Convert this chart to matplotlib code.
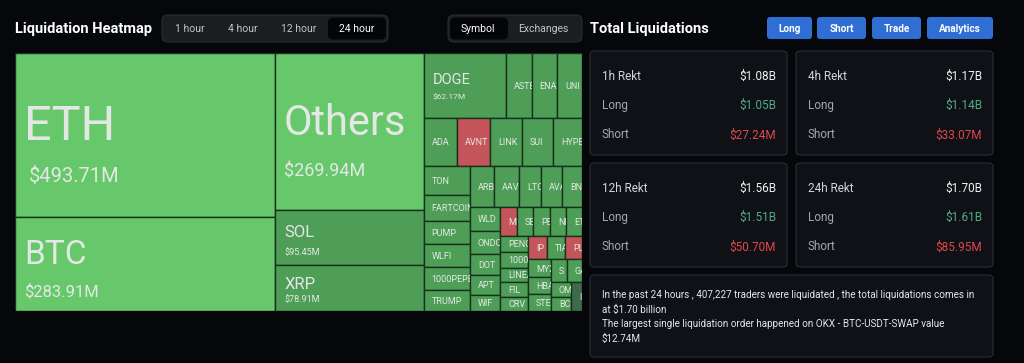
import matplotlib
matplotlib.use("Agg")
import matplotlib.pyplot as plt
from matplotlib.patches import Rectangle, FancyBboxPatch
from matplotlib.transforms import Bbox, TransformedBbox

plt.rcParams['font.family'] = ['Roboto', 'DejaVu Sans']

# ---------------- data ----------------
coins = ["ETH", "BTC", "Others", "SOL", "XRP", "DOGE", "ASTER", "ENA", "UNI",
         "ADA", "AVNT", "LINK", "SUI", "HYPE",
         "TON", "FARTCOIN", "PUMP", "WLFI", "1000PEPE", "TRUMP",
         "ARB", "AAVE", "LTC", "AVAX", "BNB",
         "WLD", "ONDO", "DOT", "APT", "WIF",
         "MIRA", "SEI", "PENDLE", "NEAR", "ETC",
         "PENGU", "1000BONK", "LINEA", "FIL", "CRV",
         "IP", "TIA", "PLUME",
         "MYX", "HBAR", "STEEM",
         "S", "GALA",
         "OM", "BCH",
         "IMX"]
liq_usd_m = [493.71, 283.91, 269.94, 95.45, 78.91, 62.17, 19.6, 19.2, 18.9,
             18.5, 18.3, 17.5, 17.2, 15.9,
             15.8, 13.6, 12.5, 12.5, 12.0, 11.4,
             11.6, 11.6, 10.5, 10.0, 9.5,
             8.3, 8.3, 7.3, 7.0, 5.6,
             5.7, 5.5, 5.6, 5.5, 5.4,
             5.0, 5.2, 4.6, 4.8, 4.5,
             5.1, 5.0, 4.5,
             4.8, 4.5, 4.5,
             4.3, 4.0,
             3.5, 3.2,
             3.7]
dominant = ["long"] * len(coins)
for _c in ["AVNT", "MIRA", "IP", "PLUME"]:
    dominant[coins.index(_c)] = "short"
dominant[coins.index("IMX")] = "mixed"

time_tabs = ["1 hour", "4 hour", "12 hour", "24 hour"]
view_tabs = ["Symbol", "Exchanges"]
buttons = ["Long", "Short", "Trade", "Analytics"]

periods = ["1h", "4h", "12h", "24h"]
rekt_total_b = [1.08, 1.17, 1.56, 1.70]
rekt_long_b = [1.05, 1.14, 1.51, 1.61]
rekt_short_m = [27.24, 33.07, 50.70, 85.95]

summary_lines = [
    "In the past 24 hours , 407,227 traders were liquidated , the total liquidations comes in",
    "at $1.70 billion",
    "The largest single liquidation order happened on OKX - BTC-USDT-SWAP value",
    "$12.74M",
]

# ---------------- styles ----------------
BG = "#05070b"
GREEN_BRIGHT = "#66c86a"
GREEN_MID = "#4f9e58"
RED = "#c4555a"
DARK = "#3e6b4b"
EDGE = "#16321b"
LABEL = "#e4e8e4"
# name size, value size (pt), name-baseline offset from cell centre (px),
# gap between name and value baselines (px), value x shift (px)
BIG_LABELS = {"ETH": (35, 14.5, 5, 42, 5), "BTC": (24, 12, 0, 33, 0),
              "Others": (30, 13, 3.5, 42, 0), "SOL": (12, 6.5, -0.5, 18, 0),
              "XRP": (12, 6.5, 1, 13.5, 0), "DOGE": (10.5, 6, -1.5, 15, 0)}
SMALL_FS = 6.5


def cell_color(v, d):
    if d == "short":
        return RED
    if d == "mixed":
        return DARK
    return GREEN_BRIGHT if v >= 200 else GREEN_MID


def squarify(values, w, h, ratio=(1 + 5 ** 0.5) / 2):
    """ECharts-style squarified treemap layout (y grows downward)."""
    total = float(sum(values))
    scale = w * h / total
    areas = [v * scale for v in values]
    rect = [0.0, 0.0, float(w), float(h)]
    out = []

    def worst(row, s, fixed):
        ar = [a for _, a in row]
        sq = s * s
        f = fixed * fixed * ratio
        return max(f * max(ar) / sq, sq / (f * min(ar)))

    def position(row, s, fixed, flush):
        horizontal = (fixed == rect[2])
        other = s / fixed if fixed else 0
        limit = rect[3] if horizontal else rect[2]
        if flush or other > limit:
            other = limit
        last = rect[0] if horizontal else rect[1]
        end = rect[0] + rect[2] if horizontal else rect[1] + rect[3]
        for j, (idx, a) in enumerate(row):
            step = a / other if other else 0
            remain = end - last
            m = remain if (j == len(row) - 1 or remain < step) else step
            if horizontal:
                out.append((idx, last, rect[1], m, other))
            else:
                out.append((idx, rect[0], last, other, m))
            last += m
        if horizontal:
            rect[1] += other
            rect[3] -= other
        else:
            rect[0] += other
            rect[2] -= other

    row, s = [], 0.0
    fixed = min(rect[2], rect[3])
    best = float("inf")
    i = 0
    while i < len(areas):
        row.append((i, areas[i]))
        s += areas[i]
        score = worst(row, s, fixed)
        if score <= best:
            i += 1
            best = score
        else:
            _, a = row.pop()
            s -= a
            position(row, s, fixed, False)
            fixed = min(rect[2], rect[3])
            row, s, best = [], 0.0, float("inf")
    if row:
        position(row, s, fixed, True)
    return sorted(out)


W_PX, H_PX = 1024, 363
fig = plt.figure(figsize=(W_PX / 100, H_PX / 100), dpi=100, facecolor=BG)

# ---------------- UI overlay (pixel coordinates) ----------------
ui = fig.add_axes([0, 0, 1, 1])
ui.set_xlim(0, W_PX)
ui.set_ylim(H_PX, 0)
ui.axis("off")
ui.set_facecolor(BG)


def rbox(x, y, w, h, fc, ec="none", r=4, lw=0.8, z=1):
    p = FancyBboxPatch((x, y), w, h, boxstyle=f"round,pad=0,rounding_size={r}",
                       fc=fc, ec=ec, lw=lw, zorder=z, mutation_aspect=1)
    ui.add_patch(p)
    return p


ui.text(15, 28.5, "Liquidation Heatmap", color="white", fontsize=10.5,
        fontweight="bold", va="center", ha="left")

# time tabs
rbox(162, 15, 226, 27, "#1b1d21", "#2a2c31", r=6)
tab_cx = [190, 243, 299, 357]
rbox(328, 17.5, 58, 22, "#040507", r=5, z=2)
for t, cx in zip(time_tabs, tab_cx):
    ui.text(cx, 29, t, color="white" if t == "24 hour" else "#c4c6ca",
            fontsize=7.5, ha="center", va="center", zorder=3)

# view tabs
rbox(448, 15, 134, 27, "#1b1d21", "#2a2c31", r=6)
rbox(450, 17.5, 58, 22, "#040507", r=5, z=2)
for t, cx in zip(view_tabs, [478, 543.5]):
    ui.text(cx, 29, t, color="white" if t == "Symbol" else "#c4c6ca",
            fontsize=7.5, ha="center", va="center", zorder=3)

ui.text(590, 28.5, "Total Liquidations", color="white", fontsize=10.5,
        fontweight="bold", va="center", ha="left")

btn_geom = [(767, 45), (817, 49), (872, 49), (927, 66)]
for b, (bx, bw) in zip(buttons, btn_geom):
    rbox(bx, 17, bw, 22, "#2f6ed2", r=3)
    ui.text(bx + bw / 2, 28.5, b, color="white", fontsize=7.2, fontweight="bold",
            ha="center", va="center", zorder=3)

card_xy = [(590, 51), (796, 51), (590, 163), (796, 163)]
for (cx, cy), p, tb, lb, sm in zip(card_xy, periods, rekt_total_b, rekt_long_b, rekt_short_m):
    rbox(cx, cy, 197, 104, "#0f1116", "#2b2e34", r=4)
    rows = [(f"{p} Rekt", f"${tb:.2f}B", "#d4d6da", "#f2f2f2"),
            ("Long", f"${lb:.2f}B", "#a6a8ad", "#4fae84"),
            ("Short", f"${sm:.2f}M", "#a6a8ad", "#e0474d")]
    for k, (lab, val, lc, vc) in enumerate(rows):
        yy = cy + 25 + k * 29.5
        ui.text(cx + 12, yy, lab, color=lc, fontsize=8.5, ha="left", va="center", zorder=3)
        ui.text(cx + 186, yy, val, color=vc, fontsize=8.5, ha="right", va="center", zorder=3)

rbox(590, 275, 403, 82, "#0f1116", "#2b2e34", r=4)
for k, line in enumerate(summary_lines):
    ui.text(602, 295 + k * 14.5, line, color="#e6e7ea", fontsize=7.1,
            ha="left", va="center", zorder=3)

# ---------------- treemap ----------------
TX, TY, TW, TH = 15, 53, 567, 258
ax = fig.add_axes([TX / W_PX, (H_PX - TY - TH) / H_PX, TW / W_PX, TH / H_PX])
ax.set_xlim(0, TW)
ax.set_ylim(TH, 0)
ax.axis("off")

layout = squarify(liq_usd_m, TW, TH)
for idx, x, y, w, h in layout:
    name, v, d = coins[idx], liq_usd_m[idx], dominant[idx]
    rect = Rectangle((x, y), w, h, fc=cell_color(v, d), ec=EDGE, lw=1.0, zorder=1)
    ax.add_patch(rect)
    clip = TransformedBbox(Bbox.from_bounds(x, y, w, h), ax.transData)
    cy = y + h / 2
    if name in BIG_LABELS:
        nfs, vfs, noff, gap, vdx = BIG_LABELS[name]
        nb = cy + noff
        t1 = ax.text(x + 9, nb, name, color=LABEL, fontsize=nfs, ha="left",
                     va="baseline", zorder=3, clip_on=True)
        t2 = ax.text(x + 9 + vdx, nb + gap, f"${v:.2f}M", color=LABEL,
                     fontsize=vfs, ha="left", va="baseline", zorder=3, clip_on=True)
        for t in (t1, t2):
            t.set_clip_box(clip)
    else:
        px = SMALL_FS * 100 / 72
        t = ax.text(x + 8, cy + 0.36 * px, name, color=LABEL, fontsize=SMALL_FS,
                    ha="left", va="baseline", zorder=3, clip_on=True)
        t.set_clip_box(clip)

fig.savefig("out.png", dpi=100, facecolor=BG)
